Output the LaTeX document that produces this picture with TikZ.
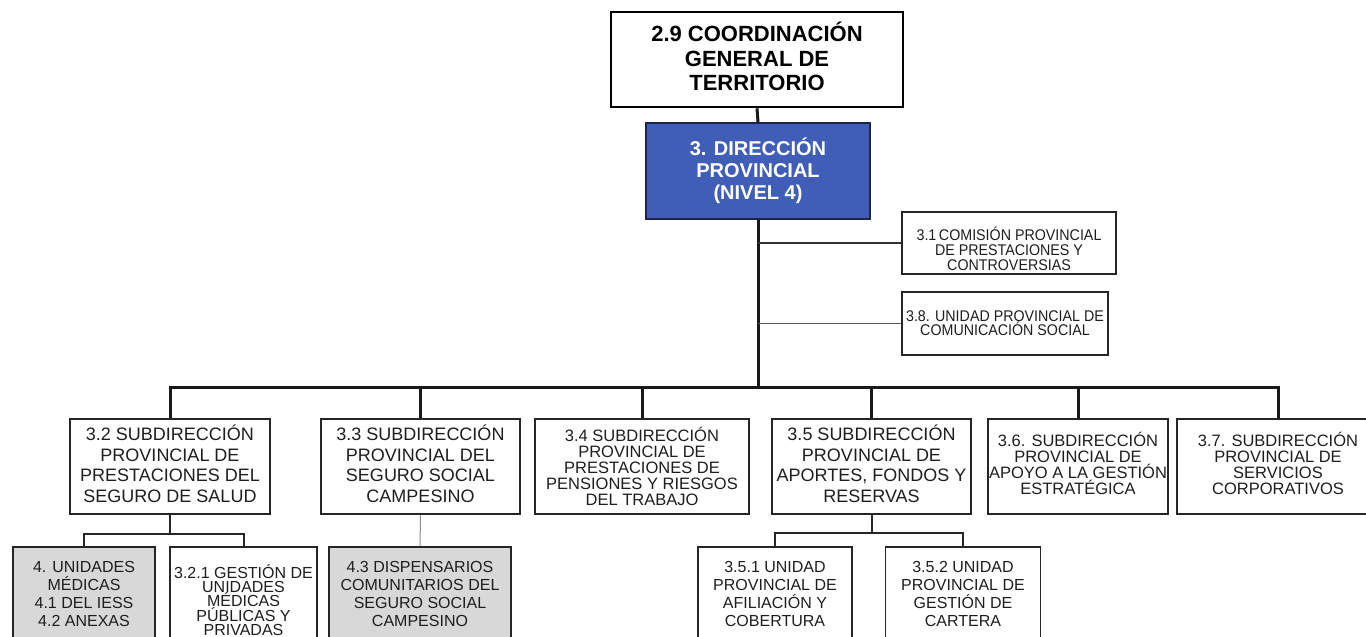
\documentclass[tikz,border=0pt]{standalone}
\usepackage{fontspec}
\setmainfont{Liberation Sans}
\newfontfamily\narrowsans[FakeStretch=0.92]{Liberation Sans}
\definecolor{dirblue}{RGB}{64,94,184}
\definecolor{dirborder}{RGB}{28,36,72}
\definecolor{boxgray}{RGB}{216,216,216}
\definecolor{txt}{RGB}{30,30,30}
\newcommand{\fsz}[2]{\fontsize{#1}{#2}\selectfont}
\newcommand{\upby}[1]{\rule[-#1]{0pt}{0pt}}
\newcommand{\downby}[1]{\rule{0pt}{#1}}
\begin{document}
\begin{tikzpicture}[x=1pt,y=-1pt,
  box/.style={draw=black!85, line width=1.6pt, inner sep=0pt, align=center, text=txt},
  topbox/.style={box, line width=2.6pt, draw=black, text=black, font=\fsz{22}{24.5}\bfseries},
  dirbox/.style={box, line width=2pt, draw=dirborder, fill=dirblue, text=white, font=\fsz{20}{22}\bfseries},
  sidebox/.style={box, line width=1.4pt, font=\narrowsans\fsz{15.5}{15}},
  subbox/.style={box, minimum height=95, font=\fsz{18}{20.5}},
  subboxs/.style={box, minimum height=95, font=\fsz{16.5}{16}},
  grandbox/.style={box, minimum height=94, font=\fsz{16}{18.3}},
  graybox/.style={grandbox, fill=boxgray},
  mainline/.style={line width=3pt, draw=black!90},
  branchline/.style={line width=1.5pt, draw=black!80},
  subline/.style={line width=2pt, draw=black!85},
  thinline/.style={line width=1pt, draw=black!45}
]
\clip (0,0) rectangle (1366,637);
\fill[white] (0,0) rectangle (1366,637);

% top levels
\node[topbox, minimum width=292, minimum height=95] (top) at (757,59.5)
  {2.9 COORDINACIÓN\\GENERAL DE\\TERRITORIO\upby{6pt}};
\node[dirbox, minimum width=224, minimum height=96] (dir) at (758,171)
  {3. DIRECCIÓN\\PROVINCIAL\\(NIVEL 4)};

% staff units
\node[sidebox, minimum width=214, minimum height=62] (c31) at (1009,243)
  {\downby{26pt}3.1\,COMISIÓN PROVINCIAL\\DE PRESTACIONES Y\\CONTROVERSIAS};
\node[sidebox, minimum width=206, minimum height=63, font=\narrowsans\fsz{15.5}{14}] (c38) at (1005,323.5)
  {3.8. UNIDAD PROVINCIAL DE\\COMUNICACIÓN SOCIAL};

% sub-directions
\node[subbox, minimum width=200] (s32) at (170,466.5)
  {3.2 SUBDIRECCIÓN\\PROVINCIAL DE\\PRESTACIONES DEL\\SEGURO DE SALUD\upby{6pt}};
\node[subbox, minimum width=199] (s33) at (420.5,466.5)
  {3.3 SUBDIRECCIÓN\\PROVINCIAL DEL\\SEGURO SOCIAL\\CAMPESINO\upby{6pt}};
\node[subboxs, minimum width=214] (s34) at (642,466.5)
  {3.4 SUBDIRECCIÓN\\PROVINCIAL DE\\PRESTACIONES DE\\PENSIONES Y RIESGOS\\DEL TRABAJO};
\node[subbox, minimum width=199] (s35) at (871.5,466.5)
  {3.5 SUBDIRECCIÓN\\PROVINCIAL DE\\APORTES, FONDOS Y\\RESERVAS\upby{6pt}};
\node[subboxs, minimum width=180] (s36) at (1078,466.5)
  {3.6. SUBDIRECCIÓN\\PROVINCIAL DE\\APOYO A LA GESTIÓN\\ESTRATÉGICA\upby{6pt}};
\node[subboxs, minimum width=202] (s37) at (1278,466.5)
  {3.7. SUBDIRECCIÓN\\PROVINCIAL DE\\SERVICIOS\\CORPORATIVOS\upby{6pt}};

% lower units
\node[graybox, minimum width=142] (g4) at (84,594)
  {4. UNIDADES\\MÉDICAS\\4.1 DEL IESS\\4.2 ANEXAS};
\node[grandbox, minimum width=147, minimum height=106, font=\fsz{16}{14.2}] (g321) at (243.5,600)
  {3.2.1 GESTIÓN DE\\UNIDADES\\MÉDICAS\\PÚBLICAS Y\\PRIVADAS};
\node[graybox, minimum width=182] (g43) at (420,594)
  {4.3 DISPENSARIOS\\COMUNITARIOS DEL\\SEGURO SOCIAL\\CAMPESINO};
\node[grandbox, minimum width=154] (g351) at (775,594)
  {3.5.1 UNIDAD\\PROVINCIAL DE\\AFILIACIÓN Y\\COBERTURA};
\node[grandbox, minimum width=155] (g352) at (963,594)
  {3.5.2 UNIDAD\\PROVINCIAL DE\\GESTIÓN DE\\CARTERA};

% connectors
\coordinate (bus) at (757,387);
\draw[mainline] (top.south) -- (dir.north);
\draw[mainline] (dir.south) -- (dir.south |- bus);
\draw[branchline] (dir.south |- c31.west) -- (c31.west);
\draw[branchline, draw=black!65] (dir.south |- c38.west) -- (c38.west);
\draw[mainline] (s32.north) -- (s32.north |- bus) -| (s37.north);
\foreach \n in {s33,s34,s35,s36}
  \draw[mainline] (\n.north) -- (\n.north |- bus);

\draw[subline] (s32.south) -- ++(0,19) coordinate (b32) -| (g4.north);
\draw[subline] (b32) -| (g321.north);
\draw[subline] (s35.south) -- ++(0,18) coordinate (b35) -| (g351.north);
\draw[subline] (b35) -| (g352.north);
\draw[thinline] (s33.south) -- (g43.north);
\end{tikzpicture}
\end{document}
